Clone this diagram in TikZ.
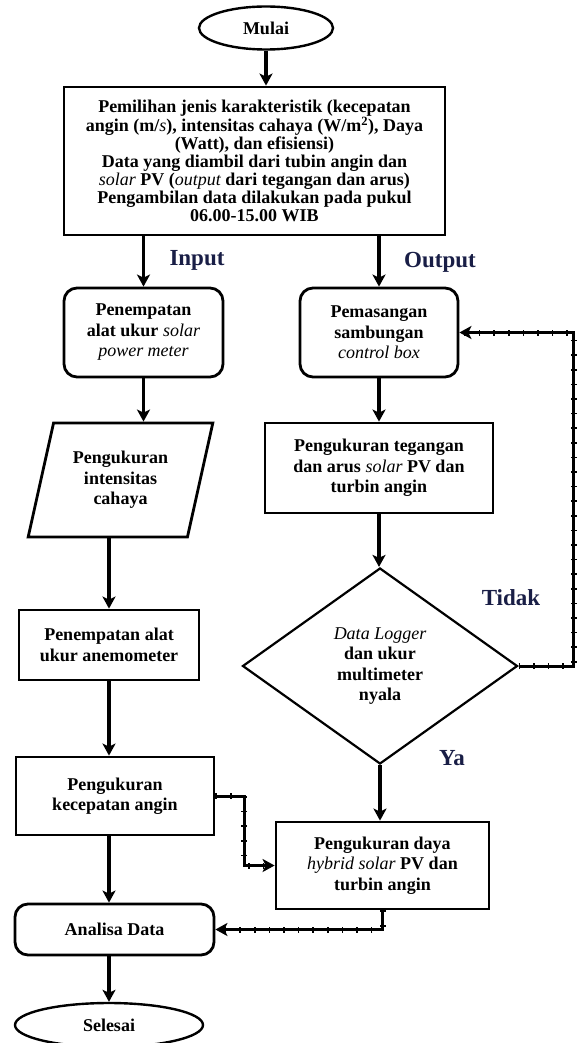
\documentclass[tikz,border=0pt]{standalone}
\usepackage{fontspec}
\setmainfont{Liberation Serif}
\usepackage{tikz}
\usetikzlibrary{shapes.geometric}
\usetikzlibrary{arrows.meta}
\definecolor{labelnavy}{RGB}{25,30,70}
\newcommand{\ital}[1]{{\mdseries\itshape #1}}
\tikzset{
	boxfont/.style={font=\bfseries\fontsize{18}{20.5}\selectfont, align=center},
	procbox/.style={draw, line width=2.8pt, rectangle, boxfont, inner sep=2pt},
	roundbox/.style={procbox, rounded corners=13pt},
	terminal/.style={draw, line width=2.4pt, ellipse, boxfont},
	flowarrow/.style={line width=3.2pt, -{Stealth[length=12pt,width=13pt,inset=3pt]}},
	tickarrow/.style={line width=3pt, -{Stealth[length=12pt,width=13pt,inset=3pt]}, postaction={draw, arrows=-, line width=6pt, dash pattern=on 1.6pt off 13pt}},
	branchlabel/.style={font=\bfseries\fontsize{23}{23}\selectfont, text=labelnavy},
}

\begin{document}
\begin{tikzpicture}[x=1pt, y=-1pt]
		\useasboundingbox (0,0) rectangle (581,1043);
		\node at (266,28) [terminal, minimum width=134, minimum height=43] (mulai) {Mulai};
		\node at (254.5,161) [procbox, minimum width=381, minimum height=148, font=\bfseries\fontsize{18}{18}\selectfont] (pilih) {Pemilihan jenis karakteristik (kecepatan\\angin (m/\ital{s}), intensitas cahaya (W/m\textsuperscript{2}), Daya\\(Watt), dan efisiensi)\\Data yang diambil dari tubin angin dan\\\ital{solar} PV (\ital{output} dari tegangan dan arus)\\Pengambilan data dilakukan pada pukul\\06.00-15.00 WIB};
		\node at (143.5,332.5) [roundbox, minimum width=159, minimum height=89] (alatsolar) {Penempatan\\alat ukur \ital{solar}\\\ital{power meter}};
		\node at (379,332.5) [roundbox, minimum width=158, minimum height=89] (sambung) {Pemasangan\\sambungan\\\ital{control box}};
		\node at (120.5,480) [procbox, trapezium, trapezium left angle=73, trapezium right angle=107, trapezium stretches=true, minimum width=185, minimum height=114] (intensitas) {Pengukuran\\intensitas\\cahaya};
		\node at (379,468) [procbox, minimum width=228, minimum height=90] (tegangan) {Pengukuran tegangan\\dan arus \ital{solar} PV dan\\turbin angin};
		\node at (380,666) [procbox, diamond, line width=2.2pt, minimum width=275, minimum height=196, inner sep=0pt] (logger) {\ital{Data Logger}\\dan ukur\\multimeter\\nyala};
		\node at (109,645) [procbox, minimum width=180, minimum height=70] (anemo) {Penempatan alat\\ukur anemometer};
		\node at (115,796) [procbox, minimum width=198, minimum height=78] (angin) {Pengukuran\\kecepatan angin};
		\node at (382.5,865.5) [procbox, minimum width=213, minimum height=87] (daya) {Pengukuran daya\\\ital{hybrid solar} PV dan\\turbin angin};
		\node at (114.5,929.5) [roundbox, minimum width=199, minimum height=51] (analisa) {Analisa Data};
		\node at (109,1025) [terminal, minimum width=188, minimum height=44] (selesai) {Selesai};

		\node at (197,260) [branchlabel] (input) {Input};
		\node at (440,262) [branchlabel] (output) {Output};
		\node at (511,598) [branchlabel] (tidak) {Tidak};
		\node at (452,758) [branchlabel] (ya) {Ya};

		\draw [flowarrow] (mulai.south) -- (mulai.south |- pilih.north);
		\draw [flowarrow] (pilih.south -| alatsolar.north) -- (alatsolar.north);
		\draw [flowarrow] (pilih.south -| sambung.north) -- (sambung.north);
		\draw [flowarrow] (alatsolar.south) -- (alatsolar.south |- intensitas.north);
		\draw [flowarrow] (anemo.north |- intensitas.south) -- (anemo.north);
		\draw [flowarrow] (anemo.south) -- (anemo.south |- angin.north);
		\draw [flowarrow] (angin.south -| anemo.south) -- (analisa.north -| anemo.south);
		\draw [flowarrow] (analisa.south -| selesai.north) -- (selesai.north);
		\draw [flowarrow] (sambung.south) -- (tegangan.north);
		\draw [flowarrow] (tegangan.south) -- (tegangan.south |- logger.north);
		\draw [flowarrow] (logger.south) -- (logger.south |- daya.north);
		\draw [tickarrow] (logger.east) -- ++(55,0) |- (sambung.east); % Tidak
		\draw [tickarrow] (angin.east) -- ++(29,0) |- (daya.west);
		\draw [tickarrow] (daya.south) |- (analisa.east);
\end{tikzpicture}
\end{document}
